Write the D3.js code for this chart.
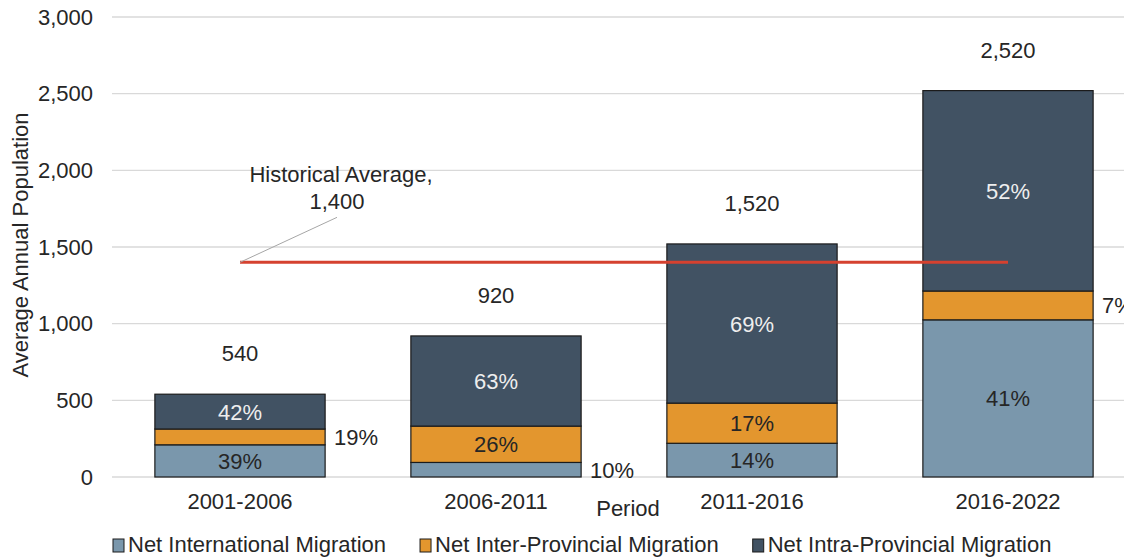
<!DOCTYPE html>
<html>
<head>
<meta charset="utf-8">
<script src="https://cdn.jsdelivr.net/npm/d3@7"></script>
<style>
  body { margin: 0; background: #fff; }
  text { font-family: "Liberation Sans", Arial, sans-serif; fill: #262626; }
</style>
</head>
<body>
<div id="chart"></div>
<script>
const periods = ["2001-2006", "2006-2011", "2011-2016", "2016-2022"];
const series = ["Net International Migration", "Net Inter-Provincial Migration", "Net Intra-Provincial Migration"];
const international = [210, 95, 220, 1025];
const interProvincial = [103, 237, 262, 188];
const intraProvincial = [227, 588, 1038, 1307];
const totals = ["540", "920", "1,520", "2,520"];
const intlPct = ["39%", "10%", "14%", "41%"];
const interPct = ["19%", "26%", "17%", "7%"];
const intraPct = ["42%", "63%", "69%", "52%"];
const historicalAvg = 1400;
const yTicks = [0, 500, 1000, 1500, 2000, 2500, 3000];

const width = 1124;
const height = 558;
const fontSize = 22;
const colors = ["#7a97ac", "#e3962e", "#415263"];
// small segments get their % label to the right of the bar
const outside = [[false, true, false, false], [true, false, false, true], [false, false, false, false]];

const svg = d3.select("#chart")
              .append("svg")
              .attr("width", width)
              .attr("height", height)

const xScale = d3.scaleBand()
                 .domain(periods)
                 .range([112, 1136])
                 .paddingInner(0.335)
                 .paddingOuter(0.1675)

const yScale = d3.scaleLinear()
                 .domain([0, 3000])
                 .range([477, 17])

// gridlines
svg.append("g")
   .selectAll("line")
   .data(yTicks)
   .enter()
   .append("line")
   .attr("x1", 112)
   .attr("x2", width)
   .attr("y1", d => yScale(d))
   .attr("y2", d => yScale(d))
   .attr("stroke", "#d9d9d9")
   .attr("stroke-width", 1.3)

const yAxis = d3.axisLeft(yScale)
                .tickValues(yTicks)
                .tickFormat(d3.format(","))
                .tickSize(0)
                .tickPadding(19)

const yG = svg.append("g")
              .attr("transform", "translate(112,0)")
              .call(yAxis)
yG.select(".domain").remove()
yG.selectAll("text").attr("font-size", fontSize).attr("fill", "#262626").attr("font-family", "Liberation Sans, Arial, sans-serif")

const xAxis = d3.axisBottom(xScale).tickSize(0).tickPadding(16)
const xG = svg.append("g")
              .attr("transform", "translate(0,477)")
              .call(xAxis)
xG.select(".domain").remove()
xG.selectAll("text").attr("font-size", fontSize).attr("fill", "#262626").attr("font-family", "Liberation Sans, Arial, sans-serif")

// stacked data
const table = periods.map((p, i) => ({
  period: p,
  intl: international[i],
  inter: interProvincial[i],
  intra: intraProvincial[i]
}))
const stack = d3.stack().keys(["intl", "inter", "intra"])(table)
const pctLabels = [intlPct, interPct, intraPct]

const layers = svg.selectAll(".layer")
                  .data(stack)
                  .enter()
                  .append("g")
                  .attr("class", "layer")
                  .attr("fill", (d, i) => colors[i])

layers.selectAll("rect")
      .data(d => d)
      .enter()
      .append("rect")
      .attr("x", d => xScale(d.data.period))
      .attr("y", d => yScale(d[1]))
      .attr("width", xScale.bandwidth())
      .attr("height", d => yScale(d[0]) - yScale(d[1]))
      .attr("stroke", "#1b1b1b")
      .attr("stroke-width", 1.2)

stack.forEach((layer, si) => {
  layer.forEach((d, i) => {
    const out = outside[si][i]
    const cy = (yScale(d[0]) + yScale(d[1])) / 2
    svg.append("text")
       .attr("x", out ? xScale(d.data.period) + xScale.bandwidth() + 9 : xScale(d.data.period) + xScale.bandwidth() / 2)
       .attr("y", cy + 8)
       .attr("text-anchor", out ? "start" : "middle")
       .attr("font-size", fontSize)
       .style("fill", si === 2 ? "#eeeeee" : "#262626")
       .text(pctLabels[si][i])
  })
})

// totals
svg.selectAll(".total")
   .data(periods)
   .enter()
   .append("text")
   .attr("class", "total")
   .attr("x", d => xScale(d) + xScale.bandwidth() / 2)
   .attr("y", (d, i) => yScale(international[i] + interProvincial[i] + intraProvincial[i]) - 33)
   .attr("text-anchor", "middle")
   .attr("font-size", fontSize)
   .text((d, i) => totals[i])

// historical average line
const xFirst = xScale(periods[0]) + xScale.bandwidth() / 2
const xLast = xScale(periods[periods.length - 1]) + xScale.bandwidth() / 2
svg.append("line")
   .attr("x1", xFirst)
   .attr("x2", xLast)
   .attr("y1", yScale(historicalAvg))
   .attr("y2", yScale(historicalAvg))
   .attr("stroke", "#d5412f")
   .attr("stroke-width", 3)

svg.append("line")
   .attr("x1", xFirst)
   .attr("y1", yScale(historicalAvg))
   .attr("x2", xFirst + 97)
   .attr("y2", yScale(historicalAvg) - 45)
   .attr("stroke", "#a6a6a6")
   .attr("stroke-width", 1)

const avgLabel = svg.append("text")
                    .attr("text-anchor", "middle")
                    .attr("font-size", fontSize)
avgLabel.append("tspan").attr("x", 341).attr("y", 182).text("Historical Average,")
avgLabel.append("tspan").attr("x", 337).attr("y", 209).text(d3.format(",")(historicalAvg))

// axis titles
svg.append("text")
   .attr("transform", "translate(28,245) rotate(-90)")
   .attr("text-anchor", "middle")
   .attr("font-size", fontSize)
   .text("Average Annual Population")

svg.append("text")
   .attr("x", 628)
   .attr("y", 516)
   .attr("text-anchor", "middle")
   .attr("font-size", fontSize)
   .text("Period")

// legend
const legend = svg.append("g").attr("transform", "translate(113,552)")
let lx = 0
series.forEach((s, i) => {
  const g = legend.append("g").attr("transform", `translate(${lx},0)`)
  g.append("rect")
   .attr("x", 0)
   .attr("y", -13)
   .attr("width", 11)
   .attr("height", 13)
   .attr("fill", colors[i])
   .attr("stroke", "#1b1b1b")
   .attr("stroke-width", 1)
  const t = g.append("text")
             .attr("x", 15)
             .attr("y", 0)
             .attr("font-size", fontSize)
             .text(s)
  lx += 15 + t.node().getComputedTextLength() + 34
})
</script>
</body>
</html>
